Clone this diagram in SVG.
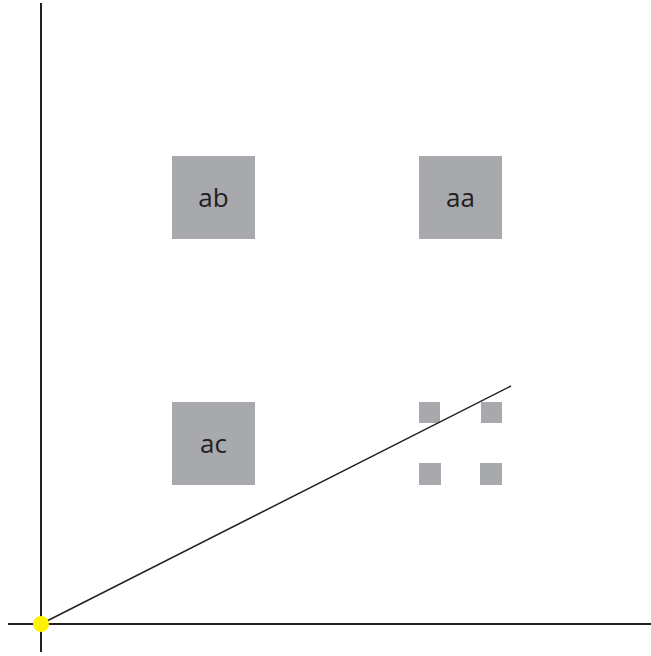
<svg xmlns="http://www.w3.org/2000/svg" width="651" height="656" viewBox="0 0 651 656">
<style>
.box{fill:#a7a9ac}
.sm{fill:#a7a9ac}
.lbl{font-family:"Open Sans","Noto Sans",sans-serif;font-size:26px;fill:#231f20;text-anchor:middle}
.ax{stroke:#231f20;stroke-width:2;fill:none}
</style>
<rect width="651" height="656" fill="#fff"/>
<g id="axes">
<line class="ax" x1="41" y1="3" x2="41" y2="652"/>
<line class="ax" x1="8" y1="624" x2="651" y2="624"/>
</g>
<g id="ab"><rect class="box" x="172" y="156" width="83" height="83"/><text class="lbl" x="213.5" y="207">ab</text></g>
<g id="aa"><rect class="box" x="419" y="156" width="83" height="83"/><text class="lbl" x="460.5" y="207">aa</text></g>
<g id="ac"><rect class="box" x="172" y="402" width="83" height="83"/><text class="lbl" x="213.5" y="453">ac</text></g>
<g id="small">
<rect class="sm" x="419" y="402" width="21" height="21"/>
<rect class="sm" x="481" y="402" width="21" height="21"/>
<rect class="sm" x="419" y="463" width="22" height="22"/>
<rect class="sm" x="480" y="463" width="22" height="22"/>
</g>
<g id="connectors">
<line x1="41" y1="624" x2="511" y2="386" stroke="#231f20" stroke-width="1.5"/>
</g>
<g id="origin"><circle cx="41" cy="624" r="8" fill="#fff200"/></g>
</svg>
